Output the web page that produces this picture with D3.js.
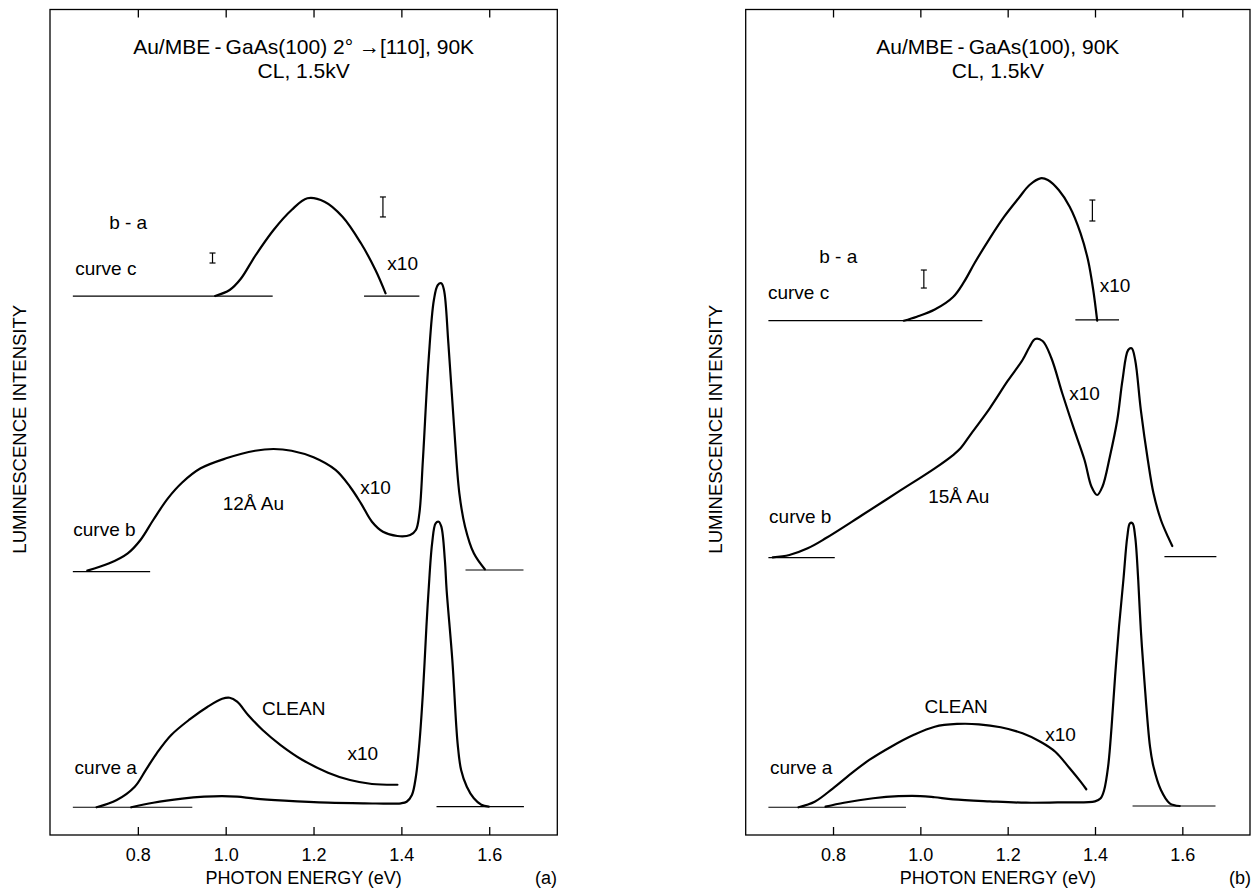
<!DOCTYPE html>
<html><head><meta charset="utf-8">
<script src="https://cdn.jsdelivr.net/npm/d3@7"></script>
<style>
html,body{margin:0;padding:0;background:#fff;}
svg text{font-family:"Liberation Sans",Arial,Helvetica,sans-serif;fill:#000;}
</style></head><body>
<svg id="chart" width="1251" height="888"></svg>
<script>
// ---------- data (photon energy eV, luminescence intensity arb. units incl. vertical offsets) ----------
const energyTicks = [0.8, 1.0, 1.2, 1.4, 1.6];
const energyDomain = [0.6, 1.755];
const intensityDomain = [0, 10];

// Panel (a): Au/MBE-GaAs(100) 2° -> [110]
const a_curveC = [[0.976,6.529],[1.009,6.602],[1.034,6.735],[1.067,7.014],[1.109,7.329],[1.150,7.571],[1.186,7.713],[1.225,7.672],[1.266,7.490],[1.308,7.168],[1.341,6.844],[1.364,6.562]];
const a_curveB = [[0.685,3.202],[0.735,3.291],[0.777,3.412],[0.806,3.574],[0.835,3.816],[0.868,4.075],[0.901,4.270],[0.943,4.442],[1.001,4.563],[1.067,4.655],[1.109,4.676],[1.150,4.655],[1.200,4.575],[1.250,4.422],[1.283,4.219],[1.308,4.018],[1.333,3.795],[1.358,3.674],[1.391,3.622],[1.420,3.634],[1.433,3.695],[1.441,3.897],[1.449,4.543],[1.462,5.754],[1.474,6.481],[1.483,6.663],[1.491,6.683],[1.497,6.602],[1.507,5.956],[1.520,4.946],[1.532,4.139],[1.545,3.735],[1.565,3.412],[1.590,3.219]];
const a_curveA10 = [[0.706,0.336],[0.752,0.424],[0.793,0.585],[0.818,0.787],[0.843,0.990],[0.876,1.211],[0.918,1.400],[0.959,1.554],[0.992,1.650],[1.009,1.663],[1.026,1.615],[1.051,1.454],[1.084,1.272],[1.125,1.090],[1.175,0.909],[1.233,0.755],[1.283,0.666],[1.333,0.618],[1.391,0.609]];
const a_curveA1 = [[0.785,0.336],[0.835,0.391],[0.901,0.440],[0.951,0.464],[0.992,0.472],[1.026,0.464],[1.067,0.440],[1.134,0.416],[1.233,0.391],[1.316,0.384],[1.399,0.384],[1.412,0.403],[1.424,0.485],[1.433,0.706],[1.441,1.111],[1.449,1.717],[1.457,2.523],[1.462,2.968],[1.470,3.534],[1.478,3.776],[1.485,3.795],[1.491,3.735],[1.499,3.331],[1.503,2.968],[1.516,2.120],[1.528,1.111],[1.536,0.787],[1.549,0.585],[1.565,0.445],[1.582,0.367],[1.599,0.343]];
// zero lines: [E start, E end, intensity]
const a_zeroLines = [[0.652,1.107,6.529],[1.315,1.441,6.529],[0.652,0.828,3.190],[1.546,1.678,3.210],[0.652,0.924,0.336],[1.480,1.679,0.343]];
// error bars: [E, low, high]
const a_errorBars = [[0.970,6.929,7.050],[1.358,7.487,7.729]];
// labels: [text, E, intensity]
const a_labels = [["b - a",0.778,7.426],["curve c",0.727,6.869],["x10",1.403,6.929],["curve b",0.724,3.700],["12Å Au",1.063,4.022],["x10",1.341,4.216],["CLEAN",1.155,1.535],["x10",1.312,0.990],["curve a",0.727,0.820]];
const a_title = ["Au/MBE\u2009-\u2009GaAs(100) 2° \u2192[110], 90K", "CL, 1.5kV"];

// Panel (b): Au/MBE-GaAs(100)
const b_curveC = [[0.962,6.230],[0.992,6.279],[1.033,6.365],[1.075,6.517],[1.100,6.700],[1.125,6.935],[1.159,7.228],[1.192,7.490],[1.225,7.713],[1.250,7.874],[1.275,7.955],[1.292,7.935],[1.317,7.813],[1.342,7.611],[1.367,7.289],[1.384,6.965],[1.396,6.602],[1.405,6.230]];
const b_curveB = [[0.662,3.364],[0.700,3.392],[0.742,3.473],[0.783,3.594],[0.867,3.876],[0.950,4.159],[1.033,4.442],[1.075,4.603],[1.092,4.684],[1.117,4.866],[1.159,5.169],[1.200,5.500],[1.234,5.754],[1.250,5.912],[1.263,6.009],[1.280,5.984],[1.300,5.778],[1.325,5.351],[1.350,4.946],[1.376,4.543],[1.392,4.219],[1.405,4.119],[1.417,4.219],[1.434,4.583],[1.451,5.027],[1.463,5.512],[1.476,5.875],[1.484,5.896],[1.492,5.754],[1.505,5.148],[1.521,4.543],[1.534,4.139],[1.551,3.816],[1.567,3.614],[1.577,3.501]];
const b_curveA10 = [[0.721,0.336],[0.758,0.403],[0.800,0.566],[0.842,0.747],[0.883,0.909],[0.933,1.070],[0.984,1.211],[1.033,1.312],[1.084,1.345],[1.134,1.341],[1.184,1.305],[1.234,1.232],[1.275,1.130],[1.309,1.009],[1.342,0.808],[1.367,0.646],[1.380,0.554]];
const b_curveA1 = [[0.783,0.343],[0.825,0.391],[0.892,0.445],[0.950,0.470],[1.000,0.472],[1.033,0.457],[1.075,0.432],[1.159,0.408],[1.242,0.391],[1.325,0.396],[1.400,0.408],[1.413,0.445],[1.421,0.545],[1.430,0.827],[1.438,1.312],[1.446,1.918],[1.455,2.523],[1.465,3.089],[1.474,3.614],[1.480,3.776],[1.486,3.776],[1.492,3.614],[1.499,3.089],[1.505,2.483],[1.513,1.878],[1.526,1.070],[1.534,0.827],[1.551,0.545],[1.571,0.384],[1.594,0.351]];
const b_zeroLines = [[0.652,1.142,6.230],[1.355,1.455,6.239],[0.652,0.804,3.359],[1.559,1.678,3.371],[0.652,0.967,0.336],[1.486,1.676,0.351]];
const b_errorBars = [[1.008,6.626,6.844],[1.394,7.438,7.692]];
const b_labels = [["b - a",0.812,7.014],["curve c",0.721,6.569],["x10",1.446,6.663],["x10",1.376,5.351],["15Å Au",1.088,4.107],["curve b",0.725,3.864],["CLEAN",1.082,1.554],["x10",1.321,1.223],["curve a",0.727,0.820]];
const b_title = ["Au/MBE\u2009-\u2009GaAs(100), 90K", "CL, 1.5kV"];

const xAxisTitle = "PHOTON ENERGY (eV)";
const yAxisTitle = "LUMINESCENCE INTENSITY";

// ---------- layout ----------
const svg = d3.select("#chart");
const panels = [
  {left:50, right:557.3, top:9.5, bottom:835, yLabelX:20, tag:"(a)", tagX:557,
   curves:[a_curveC,a_curveB,a_curveA10,a_curveA1], zero:a_zeroLines, err:a_errorBars, labels:a_labels, title:a_title},
  {left:745.7, right:1250, top:9.5, bottom:835, yLabelX:716, tag:"(b)", tagX:1251,
   curves:[b_curveC,b_curveB,b_curveA10,b_curveA1], zero:b_zeroLines, err:b_errorBars, labels:b_labels, title:b_title}
];

panels.forEach(p => {
  const x = d3.scaleLinear().domain(energyDomain).range([p.left, p.right]);
  const y = d3.scaleLinear().domain(intensityDomain).range([p.bottom, p.top]);
  const g = svg.append("g");

  // frame
  g.append("rect").attr("x", p.left).attr("y", p.top)
    .attr("width", p.right - p.left).attr("height", p.bottom - p.top)
    .attr("fill", "none").attr("stroke", "#000").attr("stroke-width", 1.3);

  // bottom axis (inward ticks)
  const xb = g.append("g").attr("transform", `translate(0,${p.bottom})`)
    .call(d3.axisBottom(x).tickValues(energyTicks).tickFormat(d3.format(".1f"))
      .tickSizeInner(-8).tickSizeOuter(0).tickPadding(13));
  xb.select(".domain").remove();
  xb.selectAll(".tick line").attr("stroke", "#000").attr("stroke-width", 1.3);
  xb.selectAll(".tick text").attr("font-size", 18).attr("font-family", null);

  // top axis (inward ticks, no labels)
  const xt = g.append("g").attr("transform", `translate(0,${p.top})`)
    .call(d3.axisTop(x).tickValues(energyTicks).tickFormat("").tickSizeInner(-8).tickSizeOuter(0));
  xt.select(".domain").remove();
  xt.selectAll(".tick line").attr("stroke", "#000").attr("stroke-width", 1.3);

  // zero lines
  g.selectAll(".zero").data(p.zero).join("line").attr("class","zero")
    .attr("x1", d => x(d[0])).attr("x2", d => x(d[1]))
    .attr("y1", d => y(d[2])).attr("y2", d => y(d[2]))
    .attr("stroke", "#000").attr("stroke-width", 1.2);

  // curves
  const line = d3.line().x(d => x(d[0])).y(d => y(d[1])).curve(d3.curveCatmullRom.alpha(0.5));
  g.selectAll(".curve").data(p.curves).join("path").attr("class","curve")
    .attr("d", line).attr("fill", "none").attr("stroke", "#000")
    .attr("stroke-width", 2.2).attr("stroke-linejoin", "round").attr("stroke-linecap", "round");

  // error bars
  const eb = g.selectAll(".err").data(p.err).join("g").attr("class","err");
  eb.append("line").attr("x1", d => x(d[0])).attr("x2", d => x(d[0]))
    .attr("y1", d => y(d[1])).attr("y2", d => y(d[2]));
  eb.append("line").attr("x1", d => x(d[0]) - 3).attr("x2", d => x(d[0]) + 3)
    .attr("y1", d => y(d[1])).attr("y2", d => y(d[1]));
  eb.append("line").attr("x1", d => x(d[0]) - 3).attr("x2", d => x(d[0]) + 3)
    .attr("y1", d => y(d[2])).attr("y2", d => y(d[2]));
  eb.selectAll("line").attr("stroke", "#000").attr("stroke-width", 1.2);

  // labels
  g.selectAll(".lab").data(p.labels).join("text").attr("class","lab")
    .attr("x", d => x(d[1])).attr("y", d => y(d[2])).attr("dy", "0.35em")
    .attr("text-anchor", "middle").attr("font-size", 19).text(d => d[0]);

  // title
  const cx = (p.left + p.right) / 2;
  g.append("text").attr("x", cx).attr("y", 54).attr("text-anchor","middle").attr("font-size", 21).text(p.title[0]);
  g.append("text").attr("x", cx).attr("y", 78).attr("text-anchor","middle").attr("font-size", 21).text(p.title[1]);

  // axis titles
  g.append("text").attr("x", cx).attr("y", 884).attr("text-anchor","middle").attr("font-size", 18).text(xAxisTitle);
  g.append("text").attr("x", p.tagX).attr("y", 884).attr("text-anchor","end").attr("font-size", 18).text(p.tag);
  g.append("text").attr("transform", `translate(${p.yLabelX + 6},${(p.top + p.bottom) / 2 + 7}) rotate(-90)`)
    .attr("text-anchor","middle").attr("font-size", 18.5).text(yAxisTitle);
});
</script>
</body></html>
